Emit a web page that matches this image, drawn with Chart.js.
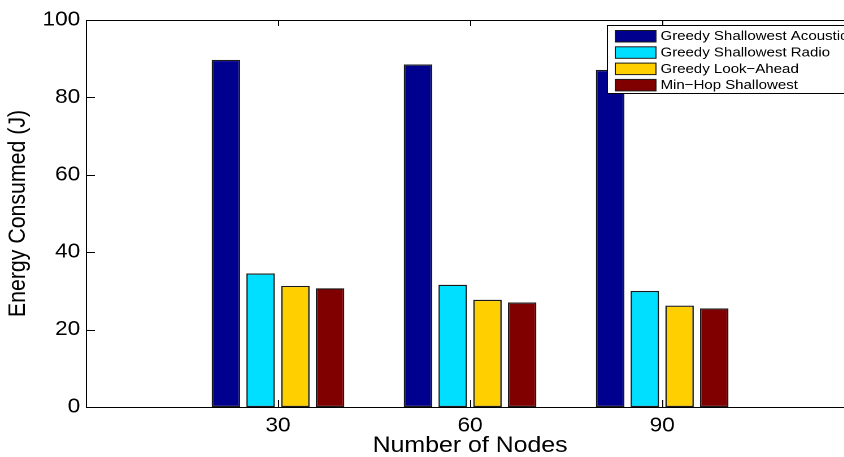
<!DOCTYPE html>
<html>
<head>
<meta charset="utf-8">
<script src="https://cdn.jsdelivr.net/npm/chart.js@4/dist/chart.umd.min.js"></script>
<style>
    html, body { margin: 0; padding: 0; background: #fff; }
    #wrap { width: 844px; height: 457px; overflow: hidden; position: relative; }
    /* the original figure is a bit wider than tall in its glyphs, so stretch horizontally */
    #inner { width: 770px; height: 457px; transform: scaleX(1.13); transform-origin: 0 0; }
</style>
</head>
<body>
<div id="wrap">
    <div id="inner">
        <canvas id="chart" width="770" height="457"></canvas>
    </div>
</div>
<script>
// Data
const nodes = ['30', '60', '90'];
const seriesNames = ['Greedy Shallowest Acoustic', 'Greedy Shallowest Radio', 'Greedy Look\u2212Ahead', 'Min\u2212Hop Shallowest'];
const acoustic = [89.7, 88.5, 87.1];
const radio = [34.5, 31.6, 30.0];
const lookAhead = [31.3, 27.7, 26.2];
const minHop = [30.7, 27.0, 25.5];
const yTicks = [0, 20, 40, 60, 80, 100];

const colors = ['#00008F', '#00DFFF', '#FFCF00', '#800000'];
const FONT = '"Liberation Sans", Arial, Helvetica, sans-serif';

// MATLAB-style x limits: one empty slot on each side of the groups
const labels = [''].concat(nodes, ['']);
function pad(arr) {
    return [null].concat(arr, [null]);
}

const datasets = [acoustic, radio, lookAhead, minHop].map((arr, i) => ({
    label: seriesNames[i],
    data: pad(arr),
    backgroundColor: colors[i],
    borderColor: '#1a1a1a',
    borderWidth: 1.3,
    borderSkipped: false,
    categoryPercentage: 0.723,
    barPercentage: 0.82,
}));

// Box, inward ticks and legend drawn like a MATLAB axes
const matlabBox = {
    id: 'matlabBox',
    afterDraw(chart) {
        const ctx = chart.ctx;
        const a = chart.chartArea;
        const x = chart.scales.x;
        const y = chart.scales.y;
        ctx.save();
        ctx.strokeStyle = '#000';
        ctx.lineWidth = 1;

        // ticks on all four sides, pointing inward
        ctx.beginPath();
        yTicks.forEach(v => {
            const py = Math.round(y.getPixelForValue(v)) + 0.5;
            ctx.moveTo(a.left, py); ctx.lineTo(a.left + 8, py);
            ctx.moveTo(a.right, py); ctx.lineTo(a.right - 8, py);
        });
        nodes.forEach((n, i) => {
            const px = Math.round(x.getPixelForValue(i + 1)) + 0.5;
            ctx.moveTo(px, a.bottom); ctx.lineTo(px, a.bottom - 7);
            ctx.moveTo(px, a.top); ctx.lineTo(px, a.top + 6);
        });
        ctx.stroke();

        // axes box
        ctx.strokeRect(Math.round(a.left) + 0.5, Math.round(a.top) + 0.5,
            Math.round(a.right - a.left), Math.round(a.bottom - a.top));

        // legend
        const lx = 537.5, ly = 25.5, lw = 230, lh = 68;
        ctx.fillStyle = '#fff';
        ctx.fillRect(lx, ly, lw, lh);
        ctx.strokeRect(lx, ly, lw, lh);
        ctx.font = '13.3px ' + FONT;
        ctx.textBaseline = 'middle';
        ctx.textAlign = 'left';
        chart.data.datasets.forEach((ds, i) => {
            const sy = 30.5 + i * 16.3;
            ctx.fillStyle = ds.backgroundColor;
            ctx.fillRect(544.5, sy, 36, 11.5);
            ctx.strokeStyle = '#1a1a1a';
            ctx.strokeRect(544.5, sy, 36, 11.5);
            ctx.fillStyle = '#000';
            ctx.fillText(ds.label, 584.5, sy + 6);
        });
        ctx.restore();
    }
};

new Chart(document.getElementById('chart'), {
    type: 'bar',
    data: { labels: labels, datasets: datasets },
    options: {
        responsive: false,
        animation: false,
        devicePixelRatio: 2,
        layout: { padding: { top: 20, right: 14, left: 0, bottom: 0 } },
        plugins: {
            legend: { display: false },
            tooltip: { enabled: false },
        },
        scales: {
            x: {
                offset: false,
                grid: { display: false, drawTicks: false },
                border: { display: false },
                ticks: {
                    color: '#000',
                    font: { family: FONT, size: 20 },
                    padding: 7,
                    maxRotation: 0,
                    autoSkip: false,
                },
                title: {
                    display: true,
                    text: 'Number of Nodes',
                    color: '#000',
                    font: { family: FONT, size: 22, lineHeight: 1.0 },
                    padding: { top: 0, bottom: 0 },
                },
                afterFit: function (scale) { scale.height = 50; },
            },
            y: {
                min: 0,
                max: 100,
                grid: { display: false, drawTicks: false },
                border: { display: false },
                ticks: {
                    stepSize: 20,
                    color: '#000',
                    font: { family: FONT, size: 20 },
                    padding: 5,
                },
                title: {
                    display: true,
                    text: 'Energy Consumed (J)',
                    color: '#000',
                    font: { family: FONT, size: 21.3 },
                    padding: { top: 3.5, bottom: 0 },
                },
                afterFit: function (scale) { scale.width = 76; },
            },
        },
    },
    plugins: [matlabBox],
});
</script>
</body>
</html>
